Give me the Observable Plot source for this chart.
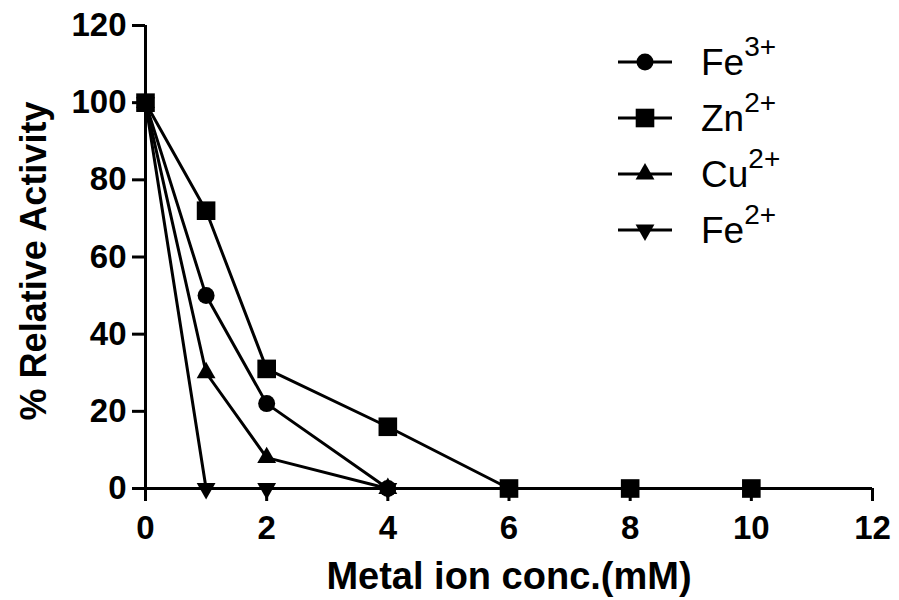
<!DOCTYPE html>
<html>
<head>
<meta charset="utf-8">
<script src="https://cdn.jsdelivr.net/npm/d3@7"></script>
<script src="https://cdn.jsdelivr.net/npm/@observablehq/plot@0.6"></script>
<style>
  html, body { margin: 0; padding: 0; background: #fff; }
  #wrap { position: relative; width: 899px; height: 600px; }
  #legend { position: absolute; left: 616px; top: 34px; font-family: "Liberation Sans", Arial, sans-serif; }
  .item { display: flex; align-items: center; height: 56px; }
  .item svg { margin-right: 27px; }
  .lab { font-size: 37px; color: #000; line-height: 1; }
  .lab sup { font-size: 28px; position: relative; top: -5px; vertical-align: super; line-height: 0; }
</style>
</head>
<body>
<div id="wrap">
  <div id="chart"></div>
  <div id="legend"></div>
</div>
<script>
// ---- data ----
const xFe3 = [0, 1, 2, 4];
const yFe3 = [100, 50, 22, 0];
const xZn2 = [0, 1, 2, 4, 6, 8, 10];
const yZn2 = [100, 72, 31, 16, 0, 0, 0];
const xCu2 = [0, 1, 2, 4];
const yCu2 = [100, 30, 8, 0];
const xFe2 = [0, 1, 2, 4];
const yFe2 = [100, 0, 0, 0];
const seriesNames = ["Fe3+", "Zn2+", "Cu2+", "Fe2+"];
const seriesSymbols = ["circle", "square", "triangle", "triangle"];
const seriesRotate = [0, 0, 0, 180];
const seriesR = [8.5, 10.5, 7, 7];
const xTicks = [0, 2, 4, 6, 8, 10, 12];
const yTicks = [0, 20, 40, 60, 80, 100, 120];
const xLabel = "Metal ion conc.(mM)";
const yLabel = "% Relative Activity";

const xs = [xFe3, xZn2, xCu2, xFe2];
const ys = [yFe3, yZn2, yCu2, yFe2];
const rows = [];
seriesNames.forEach((name, i) => {
  xs[i].forEach((x, j) => rows.push({series: name, x, y: ys[i][j], order: i}));
});

const font = "'Liberation Sans', Arial, sans-serif";
const marks = [];
seriesNames.forEach((name, i) => {
  const d = rows.filter(r => r.series === name);
  marks.push(Plot.line(d, {x: "x", y: "y", stroke: "#000", strokeWidth: 3}));
});
// draw so squares sit on top at shared points
[3, 2, 0, 1].forEach(i => {
  const d = rows.filter(r => r.order === i);
  marks.push(Plot.dot(d, {x: "x", y: "y", symbol: () => seriesSymbols[i], r: seriesR[i], rotate: seriesRotate[i], fill: "#000", stroke: "none"}));
});

const chart = Plot.plot({
  width: 899,
  height: 600,
  marginLeft: 145,
  marginRight: 27,
  marginTop: 25,
  marginBottom: 112,
  style: {fontFamily: font, color: "#000", background: "#fff", overflow: "visible"},
  x: {domain: [0, 12], ticks: xTicks},
  y: {domain: [0, 120], ticks: yTicks},
  symbol: {type: "identity"},
  marks: [
    Plot.ruleY([0], {stroke: "#000", strokeWidth: 3}),
    Plot.ruleX([0], {stroke: "#000", strokeWidth: 3}),
    Plot.axisX({ticks: xTicks, tickSize: 13, tickPadding: 14, strokeWidth: 3, fontSize: 33, fontWeight: "bold", label: null, tickFormat: d => String(d)}),
    Plot.axisY({ticks: yTicks, tickSize: 13, tickPadding: 6, strokeWidth: 3, fontSize: 33, fontWeight: "bold", label: null, tickFormat: d => String(d)}),
    Plot.text([xLabel], {frameAnchor: "bottom", dy: 88, text: d => d, fontSize: 38, fontWeight: "bold", lineAnchor: "middle", textAnchor: "middle"}),
    Plot.text([yLabel], {frameAnchor: "left", dx: -111, dy: 4, rotate: -90, text: d => d, fontSize: 36, fontWeight: "bold", lineAnchor: "middle", textAnchor: "middle"}),
    ...marks
  ]
});
document.getElementById("chart").appendChild(chart);

// ---- legend ----
const legend = d3.select("#legend");
const labelsHtml = ["Fe<sup>3+</sup>", "Zn<sup>2+</sup>", "Cu<sup>2+</sup>", "Fe<sup>2+</sup>"];
seriesNames.forEach((name, i) => {
  const item = legend.append("div").attr("class", "item");
  const svg = item.append("svg").attr("width", 58).attr("height", 30);
  svg.append("line").attr("x1", 2).attr("x2", 56).attr("y1", 15).attr("y2", 15).attr("stroke", "#000").attr("stroke-width", 3);
  const symType = {circle: d3.symbolCircle, square: d3.symbolSquare, triangle: d3.symbolTriangle}[seriesSymbols[i]];
  const r = seriesR[i];
  svg.append("path")
    .attr("d", d3.symbol(symType, Math.PI * r * r)())
    .attr("transform", `translate(29,15) rotate(${seriesRotate[i]})`)
    .attr("fill", "#000");
  item.append("span").attr("class", "lab").html(labelsHtml[i]);
});
</script>
</body>
</html>
